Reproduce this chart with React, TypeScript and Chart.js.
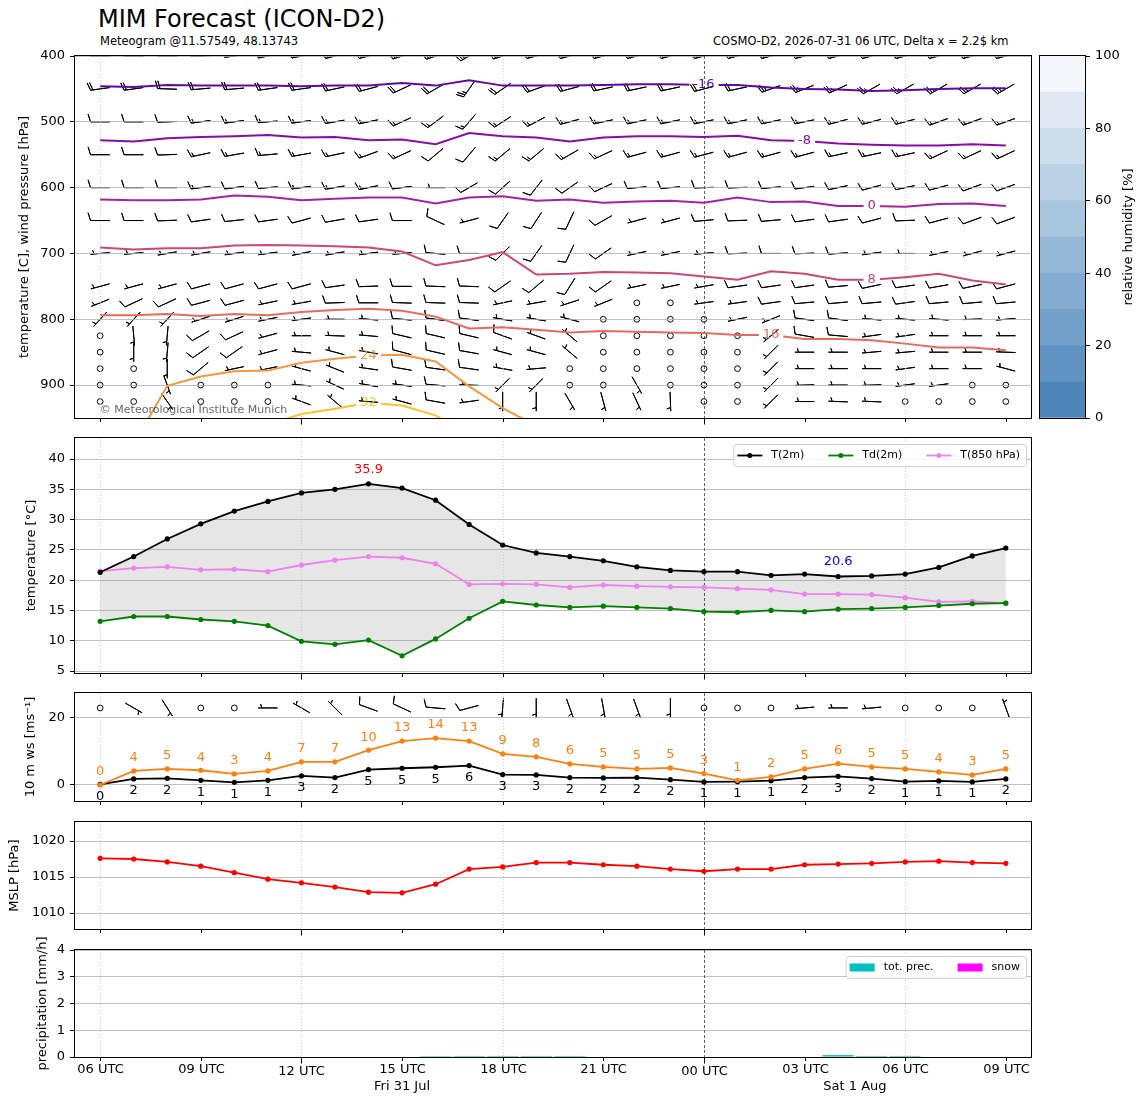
import React, { useEffect, useRef } from "react";
import { Chart, registerables } from "chart.js";

Chart.register(...registerables);

const FONT = "'DejaVu Sans', 'Liberation Sans', sans-serif";
Chart.defaults.font.family = FONT;

// ---------------- time axis ----------------
const hours = [0, 1, 2, 3, 4, 5, 6, 7, 8, 9, 10, 11, 12, 13, 14, 15, 16, 17, 18, 19, 20, 21, 22, 23, 24, 25, 26, 27];
const tickHours = [0, 3, 6, 9, 12, 15, 18, 21, 24, 27];
const tickLabels = ["06 UTC", "09 UTC", "12 UTC", "15 UTC", "18 UTC", "21 UTC", "00 UTC", "03 UTC", "06 UTC", "09 UTC"];
const majorTickHours = [6, 18];
const gridHours = [0, 6, 12, 24];
const midnightHours = [18];
const dayLabels = ["Fri 31 Jul", "Sat 1 Aug"];
const dayBounds = [0, 18, 27];

// ---------------- panel 1: wind barbs (deg from, knots) ----------------
const pressureLevels = [400, 450, 500, 550, 600, 650, 700, 750, 775, 800, 825, 850, 875, 900, 925];
const dir400 = [270, 270, 270, 268, 262, 258, 258, 255, 255, 252, 250, 240, 252, 255, 255, 255, 255, 255, 255, 255, 255, 255, 255, 255, 255, 255, 255, 255];
const spd400 = [25, 25, 25, 25, 25, 25, 25, 25, 25, 25, 25, 25, 25, 25, 25, 25, 25, 25, 25, 25, 25, 25, 25, 25, 25, 25, 25, 25];
const dir450 = [262, 262, 272, 265, 265, 262, 262, 258, 255, 245, 240, 215, 235, 250, 255, 258, 258, 258, 255, 258, 250, 248, 245, 240, 240, 240, 240, 240];
const spd450 = [20, 20, 20, 20, 20, 20, 20, 20, 20, 20, 20, 25, 20, 20, 20, 20, 20, 20, 20, 20, 25, 25, 25, 25, 25, 25, 25, 25];
const dir500 = [270, 270, 268, 262, 262, 265, 262, 260, 258, 245, 233, 220, 237, 242, 255, 258, 258, 258, 258, 258, 258, 258, 255, 255, 255, 250, 250, 250];
const spd500 = [10, 10, 10, 15, 15, 15, 15, 15, 15, 15, 15, 15, 15, 15, 15, 15, 15, 15, 15, 15, 15, 15, 15, 15, 15, 15, 15, 15];
const dir550 = [270, 270, 268, 258, 260, 265, 260, 258, 250, 245, 230, 220, 230, 230, 240, 245, 255, 255, 255, 255, 255, 255, 258, 258, 258, 245, 245, 245];
const spd550 = [10, 10, 10, 15, 15, 15, 15, 15, 15, 15, 10, 10, 15, 15, 15, 15, 15, 15, 15, 15, 15, 15, 15, 15, 15, 15, 15, 15];
const dir600 = [270, 270, 270, 262, 262, 265, 262, 260, 258, 262, 270, 240, 228, 218, 235, 245, 265, 265, 268, 268, 265, 262, 258, 255, 258, 255, 250, 250];
const spd600 = [10, 10, 10, 15, 10, 10, 15, 15, 15, 10, 5, 10, 10, 10, 10, 10, 10, 10, 10, 10, 10, 10, 10, 10, 10, 10, 10, 10];
const dir650 = [270, 270, 268, 262, 264, 262, 255, 260, 262, 270, 295, 255, 215, 213, 205, 240, 255, 255, 265, 268, 265, 262, 262, 255, 268, 255, 250, 250];
const spd650 = [10, 10, 10, 10, 10, 10, 10, 10, 10, 10, 10, 5, 10, 10, 10, 10, 5, 5, 10, 10, 10, 10, 10, 10, 10, 10, 10, 10];
const dir700 = [265, 265, 260, 260, 262, 262, 258, 260, 262, 265, 275, 270, 225, 215, 205, 235, 258, 258, 265, 268, 270, 268, 266, 262, 270, 258, 255, 255];
const spd700 = [5, 5, 5, 5, 5, 5, 5, 5, 5, 5, 10, 10, 10, 10, 10, 10, 5, 5, 5, 10, 10, 10, 10, 5, 5, 5, 5, 5];
const dir750 = [255, 255, 255, 255, 255, 255, 255, 262, 268, 270, 272, 272, 235, 230, 212, 235, 258, 258, 260, 262, 262, 262, 265, 258, 262, 260, 258, 255];
const spd750 = [5, 5, 5, 10, 10, 10, 10, 10, 10, 10, 10, 10, 10, 10, 10, 10, 5, 5, 5, 10, 10, 10, 10, 10, 10, 10, 10, 10];
const dir775 = [248, 245, 245, 255, 255, 258, 260, 268, 270, 272, 272, 272, 258, 260, 252, 248, 0, 0, 262, 262, 262, 265, 265, 265, 262, 265, 265, 265];
const spd775 = [5, 10, 10, 10, 10, 5, 5, 10, 10, 10, 10, 10, 5, 5, 5, 5, 0, 0, 5, 5, 10, 10, 10, 10, 10, 10, 10, 10];
const dir800 = [222, 222, 222, 252, 252, 258, 262, 270, 275, 275, 278, 278, 280, 280, 285, 0, 0, 0, 0, 258, 248, 278, 278, 275, 275, 275, 268, 265];
const spd800 = [5, 5, 5, 5, 5, 5, 5, 5, 5, 10, 10, 10, 5, 5, 5, 0, 0, 0, 0, 5, 5, 10, 10, 5, 5, 5, 5, 5];
const dir825 = [0, 175, 185, 240, 245, 255, 270, 272, 275, 283, 283, 283, 290, 290, 310, 0, 0, 0, 0, 0, 230, 280, 275, 262, 262, 270, 270, 270];
const spd825 = [0, 5, 5, 10, 10, 5, 5, 5, 5, 10, 10, 10, 10, 5, 5, 0, 0, 0, 0, 0, 5, 10, 10, 5, 5, 5, 5, 5];
const dir850 = [0, 180, 185, 235, 235, 255, 275, 285, 280, 285, 283, 280, 285, 285, 310, 0, 0, 0, 0, 0, 225, 270, 270, 265, 265, 270, 270, 272];
const spd850 = [0, 5, 5, 10, 10, 5, 5, 5, 5, 10, 10, 10, 5, 5, 5, 0, 0, 0, 0, 0, 5, 5, 5, 5, 5, 5, 5, 5];
const dir875 = [0, 0, 180, 230, 258, 258, 285, 292, 278, 280, 278, 278, 280, 265, 0, 0, 0, 0, 0, 0, 225, 270, 270, 270, 262, 270, 270, 285];
const spd875 = [0, 0, 5, 10, 5, 5, 5, 5, 5, 10, 10, 10, 5, 5, 0, 0, 0, 0, 0, 0, 5, 5, 5, 5, 5, 5, 5, 5];
const dir900 = [0, 0, 160, 0, 0, 0, 275, 295, 280, 278, 275, 272, 225, 225, 0, 0, 150, 0, 0, 0, 225, 268, 270, 268, 262, 262, 0, 0];
const spd900 = [0, 0, 5, 0, 0, 0, 5, 5, 5, 5, 10, 5, 5, 5, 0, 0, 5, 0, 0, 0, 5, 5, 5, 5, 5, 5, 0, 0];
const dir925 = [0, 0, 145, 0, 0, 0, 290, 310, 275, 285, 280, 262, 180, 180, 150, 165, 155, 178, 0, 0, 225, 270, 272, 272, 0, 0, 0, 0];
const spd925 = [0, 0, 5, 0, 0, 0, 5, 5, 5, 5, 10, 5, 5, 5, 5, 5, 5, 5, 0, 0, 5, 5, 5, 5, 0, 0, 0, 0];

const barbDirs = [dir400, dir450, dir500, dir550, dir600, dir650, dir700, dir750, dir775, dir800, dir825, dir850, dir875, dir900, dir925];
const barbSpds = [spd400, spd450, spd500, spd550, spd600, spd650, spd700, spd750, spd775, spd800, spd825, spd850, spd875, spd900, spd925];

// ---------------- panel 1: isotherms (pressure hPa of each isotherm per hour) ----------------
const isoLevels = [-16, -8, 0, 8, 16, 24, 32];
const isoM16 = [446, 447, 444, 445, 445, 445, 446, 445, 445, 441, 445, 437, 445, 445, 445, 444, 443, 443, 444, 444, 448, 450, 451, 453, 452, 450, 449, 449];
const isoM8 = [528, 530, 525, 523, 522, 520, 524, 523, 528, 527, 534, 517, 522, 524, 530, 524, 522, 522, 523, 521, 528, 529, 533, 535, 536, 536, 534, 536];
const iso0 = [618, 619, 619, 618, 612, 614, 619, 617, 615, 615, 624, 615, 613, 620, 618, 623, 621, 620, 623, 615, 622, 621, 628, 628, 629, 625, 624, 628];
const iso8 = [691, 694, 692, 692, 688, 687, 688, 689, 691, 697, 718, 710, 698, 732, 731, 728, 729, 730, 735, 740, 727, 731, 740, 740, 736, 731, 741, 747];
const iso16 = [794, 794, 792, 795, 792, 794, 789, 786, 784, 787, 796, 814, 812, 816, 820, 818, 819, 820, 821, 824, 824, 830, 830, 832, 837, 843, 843, 847];
const iso24 = [null, 990, 901, 887, 879, 878, 866, 860, 855, 854, 864, 902, 935, 962, null, null, null, null, null, null, null, null, null, null, null, null, null, null];
const iso32 = [null, null, null, null, null, 960, 944, 936, 927, 931, 946, 975, null, null, null, null, null, null, null, null, null, null, null, null, null, null, null, null];
const isoSeries = [isoM16, isoM8, iso0, iso8, iso16, iso24, iso32];
const isoLabelHours = [18, 21, 23, 23, 20, 8, 8];
const isoColors = ["#5d0aa8", "#860dab", "#a8229a", "#cc4778", "#e86a5c", "#f8963f", "#fcc12c"];

// ---------------- panel 2: temperatures (deg C) ----------------
const t2m = [21.3, 23.9, 26.8, 29.3, 31.4, 33.0, 34.4, 35.0, 35.9, 35.2, 33.2, 29.2, 25.8, 24.5, 23.9, 23.2, 22.2, 21.6, 21.4, 21.4, 20.8, 21.0, 20.6, 20.7, 21.0, 22.1, 24.0, 25.3];
const td2m = [13.2, 14.0, 14.0, 13.5, 13.2, 12.5, 9.9, 9.4, 10.1, 7.5, 10.3, 13.7, 16.5, 15.9, 15.5, 15.7, 15.5, 15.3, 14.8, 14.7, 15.0, 14.8, 15.2, 15.3, 15.5, 15.8, 16.1, 16.2];
const t850 = [21.5, 22.0, 22.2, 21.7, 21.8, 21.4, 22.5, 23.3, 23.9, 23.7, 22.7, 19.3, 19.4, 19.3, 18.8, 19.2, 19.0, 18.9, 18.8, 18.6, 18.4, 17.7, 17.7, 17.6, 17.1, 16.4, 16.5, 16.2];

// ---------------- panel 3: 10 m wind (m/s) and barbs (deg from, knots) ----------------
const ws10 = [0.2, 1.8, 2.0, 1.4, 0.8, 1.4, 2.7, 2.2, 4.6, 5.0, 5.3, 5.8, 3.1, 3.0, 2.2, 2.1, 2.2, 1.6, 0.9, 1.0, 1.3, 2.2, 2.6, 1.9, 1.0, 1.2, 0.9, 1.8];
const gust10 = [0.0, 4.2, 4.8, 4.4, 3.3, 4.2, 6.9, 6.9, 10.4, 13.1, 14.0, 13.1, 9.3, 8.4, 6.3, 5.4, 4.8, 5.1, 3.4, 1.4, 2.4, 4.8, 6.4, 5.4, 4.8, 3.9, 3.0, 4.8];
const dir10 = [0, 120, 148, 0, 0, 270, 300, 315, 290, 295, 275, 255, 185, 180, 160, 170, 160, 180, 0, 0, 0, 265, 270, 265, 0, 0, 0, 340];
const spd10 = [0, 5, 5, 0, 0, 5, 5, 5, 10, 10, 10, 10, 5, 5, 5, 5, 5, 5, 0, 0, 0, 5, 5, 5, 0, 0, 0, 5];

// ---------------- panel 4: MSLP (hPa) ----------------
const mslp = [1017.6, 1017.5, 1017.1, 1016.5, 1015.6, 1014.7, 1014.2, 1013.6, 1012.9, 1012.8, 1014.0, 1016.1, 1016.4, 1017.0, 1017.0, 1016.7, 1016.5, 1016.1, 1015.8, 1016.1, 1016.1, 1016.7, 1016.8, 1016.9, 1017.1, 1017.2, 1017.0, 1016.9];

// ---------------- panel 5: precipitation (mm/h) ----------------
const precip = [0, 0, 0, 0, 0, 0, 0, 0, 0, 0, 0.04, 0.04, 0.04, 0.04, 0.04, 0, 0, 0, 0, 0, 0, 0, 0.07, 0.04, 0.04, 0, 0, 0];
const snow = [0, 0, 0, 0, 0, 0, 0, 0, 0, 0, 0, 0, 0, 0, 0, 0, 0, 0, 0, 0, 0, 0, 0, 0, 0, 0, 0, 0];

// ---------------- colour bar ----------------
const rhBounds = [0, 10, 20, 30, 40, 50, 60, 70, 80, 90, 100];
const rhColors = ["#4f86ba", "#6092c2", "#72a0c9", "#84acd0", "#96b8d7", "#a8c5de", "#bad1e5", "#ccddec", "#dfe8f2", "#f3f7fb"];

// ============================================================
const BARB_LEN = 19.3;

function drawBarb(ctx: CanvasRenderingContext2D, x0: number, y0: number, dir: number, spd: number, L: number) {
  const mag = 5 * Math.round(spd / 5);
  ctx.beginPath();
  if (mag < 5) {
    ctx.arc(x0, y0, 0.15 * L, 0, Math.PI * 2);
    ctx.stroke();
    return;
  }
  const rad = (dir * Math.PI) / 180;
  const u = -Math.sin(rad);
  const v = -Math.cos(rad);
  const rot = Math.atan2(v, u) + Math.PI / 2;
  const c = Math.cos(rot);
  const s = Math.sin(rot);
  const spacing = 0.125 * L;
  const fh = 0.4 * L;
  const fw = 0.25 * L;
  const endy = -L / 2;
  const pts: number[][] = [[0, endy]];
  let offset = L;
  const nflags = Math.floor(mag / 50);
  const nbarbs = Math.floor((mag % 50) / 10);
  const half = mag % 10 >= 5;
  for (let i = 0; i < nflags; i++) {
    if (offset !== L) offset += spacing / 2;
    pts.push([0, endy + offset], [fh, endy - fw / 2 + offset], [0, endy - fw + offset]);
    offset -= fw + spacing;
  }
  for (let i = 0; i < nbarbs; i++) {
    pts.push([0, endy + offset], [fh, endy + offset + fw / 2], [0, endy + offset]);
    offset -= spacing;
  }
  if (half) {
    if (offset === L) {
      pts.push([0, endy + offset]);
      offset -= 1.5 * spacing;
    }
    pts.push([0, endy + offset], [fh / 2, endy + offset + fw / 4], [0, endy + offset]);
  }
  pts.forEach((p, i) => {
    const rx = p[0] * c - p[1] * s;
    const ry = p[0] * s + p[1] * c;
    const X = x0 + rx;
    const Y = y0 - ry;
    if (i === 0) ctx.moveTo(X, Y);
    else ctx.lineTo(X, Y);
  });
  ctx.closePath();
  ctx.stroke();
}

function isoRect(chart: any, lab: any) {
  const ds = chart.data.datasets[lab.dataset];
  const idx = hours.indexOf(lab.hour);
  const x = chart.scales.x.getPixelForValue(lab.hour);
  const y = chart.scales.y.getPixelForValue(ds.data[idx].y);
  const ctx = chart.ctx;
  ctx.save();
  ctx.font = `13px ${FONT}`;
  const w = ctx.measureText(lab.text).width;
  ctx.restore();
  return { x, y, w };
}

function meteoPlugin(cfg: any) {
  const clipped = new Set<number>();
  return {
    id: cfg.id,
    beforeDraw(chart: any) {
      if (!cfg.barbRows) return;
      const { ctx, chartArea: a, scales } = chart;
      ctx.save();
      ctx.beginPath();
      ctx.rect(a.left, a.top, a.right - a.left, a.bottom - a.top);
      ctx.clip();
      ctx.strokeStyle = "#000";
      ctx.lineWidth = 1;
      ctx.lineJoin = "miter";
      cfg.barbRows.forEach((row: any) => {
        const y = scales.y.getPixelForValue(row.value);
        hours.forEach((h, i) => drawBarb(ctx, scales.x.getPixelForValue(h), y, row.dir[i], row.spd[i], BARB_LEN));
      });
      ctx.restore();
    },
    beforeDatasetsDraw(chart: any) {
      const { ctx, chartArea: a, scales } = chart;
      ctx.save();
      ctx.lineWidth = 0.8;
      gridHours.forEach((h) => {
        const x = Math.round(scales.x.getPixelForValue(h)) + 0.5;
        ctx.strokeStyle = "#c4c4c4";
        ctx.setLineDash([1, 2]);
        ctx.beginPath();
        ctx.moveTo(x, a.top);
        ctx.lineTo(x, a.bottom);
        ctx.stroke();
      });
      midnightHours.forEach((h) => {
        const x = Math.round(scales.x.getPixelForValue(h)) + 0.5;
        ctx.strokeStyle = "#3a3a3a";
        ctx.setLineDash([3, 2]);
        ctx.beginPath();
        ctx.moveTo(x, a.top);
        ctx.lineTo(x, a.bottom);
        ctx.stroke();
      });
      ctx.restore();
    },
    beforeDatasetDraw(chart: any, args: any) {
      if (!cfg.isoLabels) return;
      const lab = cfg.isoLabels.find((l: any) => l.dataset === args.index);
      if (!lab) return;
      const r = isoRect(chart, lab);
      const ctx = chart.ctx;
      ctx.save();
      ctx.beginPath();
      ctx.rect(0, 0, chart.width, chart.height);
      ctx.rect(r.x - r.w / 2 - 4, r.y - 8, r.w + 8, 16);
      ctx.clip("evenodd");
      clipped.add(args.index);
    },
    afterDatasetDraw(chart: any, args: any) {
      if (clipped.has(args.index)) {
        chart.ctx.restore();
        clipped.delete(args.index);
      }
    },
    afterDatasetsDraw(chart: any) {
      const { ctx, chartArea: a } = chart;
      ctx.save();
      ctx.font = `13px ${FONT}`;
      ctx.textAlign = "center";
      ctx.textBaseline = "middle";
      if (cfg.isoLabels) {
        cfg.isoLabels.forEach((lab: any) => {
          const r = isoRect(chart, lab);
          ctx.fillStyle = lab.color;
          ctx.fillText(lab.text, r.x, r.y);
        });
      }
      if (cfg.valueLabels) {
        cfg.valueLabels.forEach((vl: any) => {
          const meta = chart.getDatasetMeta(vl.dataset);
          ctx.fillStyle = vl.color;
          vl.values.forEach((val: number, i: number) => {
            const p = meta.data[i];
            ctx.fillText(String(Math.round(val)), p.x, p.y + vl.offset);
          });
        });
      }
      if (cfg.extremes) {
        const ex = cfg.extremes;
        const meta = chart.getDatasetMeta(ex.dataset);
        const maxV = Math.max(...ex.values);
        const minV = Math.min(...ex.values);
        const pMax = meta.data[ex.values.indexOf(maxV)];
        const pMin = meta.data[ex.values.indexOf(minV)];
        ctx.fillStyle = "#ff0000";
        ctx.fillText(maxV.toFixed(1), pMax.x, pMax.y - 14);
        ctx.fillStyle = "#0000ff";
        ctx.fillText(minV.toFixed(1), pMin.x, pMin.y - 15);
      }
      if (cfg.copyright) {
        ctx.font = `11px ${FONT}`;
        ctx.textAlign = "left";
        ctx.fillStyle = "rgba(0,0,0,0.62)";
        ctx.fillText(cfg.copyright, a.left + 0.026 * (a.right - a.left), a.bottom - 8);
      }
      ctx.restore();
    },
    afterDraw(chart: any) {
      const { ctx, chartArea: a, scales } = chart;
      ctx.save();
      // frame
      ctx.strokeStyle = "#000";
      ctx.lineWidth = 1;
      ctx.strokeRect(Math.round(a.left) - 0.5, Math.round(a.top) - 0.5, Math.round(a.right - a.left) + 1, Math.round(a.bottom - a.top) + 1);
      // x ticks
      const xs = scales.x;
      const yb = Math.round(a.bottom) + 0.5;
      tickHours.forEach((h, i) => {
        const x = Math.round(xs.getPixelForValue(h)) + 0.5;
        const major = majorTickHours.includes(h);
        const len = major ? 6 : 3.5;
        ctx.beginPath();
        ctx.moveTo(x, yb);
        ctx.lineTo(x, yb + len);
        ctx.stroke();
        if (cfg.xLabels) {
          ctx.fillStyle = "#000";
          ctx.font = `13px ${FONT}`;
          ctx.textAlign = "center";
          ctx.textBaseline = "middle";
          ctx.fillText(tickLabels[i], x, a.bottom + (major ? 15 : 12.5));
        }
      });
      if (cfg.xLabels) {
        dayLabels.forEach((d, k) => {
          const mid = (dayBounds[k] + dayBounds[k + 1]) / 2;
          ctx.fillText(d, xs.getPixelForValue(mid), a.bottom + 30);
        });
      }
      // legend
      if (cfg.legend) {
        const items = chart.data.datasets
          .filter((ds: any) => ds.label)
          .map((ds: any) => ({ label: ds.label, color: cfg.legend === "rect" ? ds.backgroundColor : ds.borderColor }));
        ctx.font = `11px ${FONT}`;
        const handleW = 25;
        const gap = 9;
        const colGap = 24;
        const padL = 4;
        const padR = 6;
        let total = padL + padR;
        items.forEach((it: any, i: number) => {
          total += handleW + gap + ctx.measureText(it.label).width + (i < items.length - 1 ? colGap : 0);
        });
        const right = a.right - 5;
        const left = right - total;
        const top = a.top + 6;
        const h = 22;
        ctx.beginPath();
        (ctx as any).roundRect(left + 0.5, top + 0.5, total, h, 3);
        ctx.fillStyle = "rgba(255,255,255,0.85)";
        ctx.fill();
        ctx.strokeStyle = "#d0d0d0";
        ctx.lineWidth = 1;
        ctx.stroke();
        let x = left + padL;
        const cy = top + h / 2 + 0.5;
        items.forEach((it: any) => {
          if (cfg.legend === "rect") {
            ctx.fillStyle = it.color;
            ctx.fillRect(x, cy - 4, handleW, 8);
          } else {
            ctx.strokeStyle = it.color;
            ctx.lineWidth = 1.8;
            ctx.beginPath();
            ctx.moveTo(x, cy);
            ctx.lineTo(x + handleW, cy);
            ctx.stroke();
            ctx.fillStyle = it.color;
            ctx.beginPath();
            ctx.arc(x + handleW / 2, cy, 2.5, 0, Math.PI * 2);
            ctx.fill();
          }
          x += handleW + gap;
          ctx.fillStyle = "#000";
          ctx.textAlign = "left";
          ctx.textBaseline = "middle";
          ctx.fillText(it.label, x, cy);
          x += ctx.measureText(it.label).width + colGap;
        });
      }
      ctx.restore();
    },
  };
}

function timeScale() {
  return { type: "linear", min: -0.75, max: 27.75, display: false, offset: false };
}

function valueScale(o: any) {
  return {
    type: "linear",
    position: "left",
    min: o.min,
    max: o.max,
    reverse: !!o.reverse,
    afterFit: (s: any) => {
      s.width = 75;
    },
    ticks: {
      stepSize: o.step,
      includeBounds: false,
      color: "#000",
      font: { family: FONT, size: 13 },
      padding: 5,
      callback: (v: any) => String(v),
    },
    grid: { color: "#b0b0b0", lineWidth: 0.8, tickColor: "#000", tickLength: 5, tickWidth: 1 },
    border: { display: false },
    title: {
      display: true,
      text: o.title,
      color: "#000",
      font: { family: FONT, size: 13 },
      padding: { top: o.titlePad, bottom: 0 },
    },
  };
}

function baseOptions(padT: number, padB: number, yScale: any) {
  return {
    animation: false,
    responsive: false,
    events: [],
    layout: { padding: { left: 0, right: 117, top: padT, bottom: padB } },
    plugins: {
      legend: { display: false },
      tooltip: { enabled: false },
      filler: { drawTime: "beforeDatasetsDraw" },
    },
    scales: { x: timeScale(), y: yScale },
  };
}

const pts = (arr: any[]) => arr.map((v, i) => ({ x: hours[i], y: v }));

function lineDs(label: string | undefined, values: number[], color: string, extra: any = {}) {
  return {
    label,
    data: pts(values),
    borderColor: color,
    backgroundColor: color,
    borderWidth: 1.8,
    pointRadius: 2.6,
    pointBorderWidth: 0,
    pointBackgroundColor: color,
    tension: 0,
    fill: false,
    ...extra,
  };
}

const PAD = 14;

// ---------------- chart builders ----------------
function buildPanel1(canvas: HTMLCanvasElement) {
  const datasets = isoSeries.map((arr, k) => ({
    data: pts(arr),
    borderColor: isoColors[k],
    borderWidth: 2,
    pointRadius: 0,
    tension: 0,
    fill: false,
    spanGaps: false,
  }));
  const plugin = meteoPlugin({
    id: "p1",
    barbRows: pressureLevels.map((p, k) => ({ value: p, dir: barbDirs[k], spd: barbSpds[k] })),
    isoLabels: isoLevels.map((lev, k) => ({ dataset: k, hour: isoLabelHours[k], text: String(lev), color: isoColors[k] })),
    copyright: "© Meteorological Institute Munich",
  });
  return new Chart(canvas, {
    type: "line",
    data: { datasets },
    options: baseOptions(
      PAD,
      PAD,
      valueScale({ min: 400, max: 950, step: 100, reverse: true, title: "temperature [C], wind pressure [hPa]", titlePad: 17 })
    ),
    plugins: [plugin],
  } as any);
}

function buildPanel2(canvas: HTMLCanvasElement) {
  const datasets = [
    lineDs("T(2m)", t2m, "#000000", { fill: "+1", backgroundColor: "rgba(128,128,128,0.2)" }),
    lineDs("Td(2m)", td2m, "#008000"),
    lineDs("T(850 hPa)", t850, "#ee82ee"),
  ];
  const plugin = meteoPlugin({ id: "p2", legend: "line", extremes: { dataset: 0, values: t2m } });
  return new Chart(canvas, {
    type: "line",
    data: { datasets },
    options: baseOptions(PAD, PAD, valueScale({ min: 4.67, max: 43.47, step: 5, title: "temperature [°C]", titlePad: 24 })),
    plugins: [plugin],
  } as any);
}

function buildPanel3(canvas: HTMLCanvasElement) {
  const datasets = [lineDs(undefined, gust10, "#ff7f0e"), lineDs(undefined, ws10, "#000000")];
  const plugin = meteoPlugin({
    id: "p3",
    barbRows: [{ value: 23, dir: dir10, spd: spd10 }],
    valueLabels: [
      { dataset: 0, values: gust10, offset: -13, color: "#ff7f0e" },
      { dataset: 1, values: ws10, offset: 12, color: "#000000" },
    ],
  });
  return new Chart(canvas, {
    type: "line",
    data: { datasets },
    options: baseOptions(PAD, PAD, valueScale({ min: -4.78, max: 27.46, step: 20, title: "10 m ws [ms⁻¹]", titlePad: 23 })),
    plugins: [plugin],
  } as any);
}

function buildPanel4(canvas: HTMLCanvasElement) {
  const datasets = [lineDs(undefined, mslp, "#ff0000")];
  const plugin = meteoPlugin({ id: "p4" });
  return new Chart(canvas, {
    type: "line",
    data: { datasets },
    options: baseOptions(PAD, PAD, valueScale({ min: 1007.78, max: 1022.64, step: 5, title: "MSLP [hPa]", titlePad: 7 })),
    plugins: [plugin],
  } as any);
}

function buildPanel5(canvas: HTMLCanvasElement) {
  const barDs = (label: string, values: number[], color: string) => ({
    type: "bar",
    label,
    data: pts(values),
    backgroundColor: color,
    borderColor: color,
    borderWidth: 0,
    barPercentage: 0.93,
    categoryPercentage: 1,
    grouped: false,
  });
  const datasets = [barDs("tot. prec.", precip, "#00bfbf"), barDs("snow", snow, "#ff00ff")];
  const plugin = meteoPlugin({ id: "p5", legend: "rect", xLabels: true });
  return new Chart(canvas, {
    type: "bar",
    data: { datasets },
    options: baseOptions(22, 48, valueScale({ min: 0, max: 4, step: 1, title: "precipitation [mm/h]", titlePad: 35 })),
    plugins: [plugin],
  } as any);
}

function buildColorbar(canvas: HTMLCanvasElement) {
  const plugin = {
    id: "cb",
    afterDraw(chart: any) {
      const { ctx, chartArea: a } = chart;
      ctx.save();
      ctx.strokeStyle = "#000";
      ctx.lineWidth = 1;
      ctx.strokeRect(Math.round(a.left) - 0.5, Math.round(a.top) - 0.5, Math.round(a.right - a.left) + 1, Math.round(a.bottom - a.top) + 1);
      ctx.translate(a.right + 44, (a.top + a.bottom) / 2);
      ctx.rotate(-Math.PI / 2);
      ctx.font = `13px ${FONT}`;
      ctx.fillStyle = "#000";
      ctx.textAlign = "center";
      ctx.textBaseline = "middle";
      ctx.fillText("relative humidity [%]", 0, 0);
      ctx.restore();
    },
  };
  return new Chart(canvas, {
    type: "bar",
    data: {
      labels: ["rh"],
      datasets: rhColors.map((c, k) => ({
        data: [rhBounds[k + 1] - rhBounds[k]],
        backgroundColor: c,
        borderWidth: 0,
        barPercentage: 1,
        categoryPercentage: 1,
      })),
    },
    options: {
      animation: false,
      responsive: false,
      events: [],
      layout: { padding: { left: 10, right: 0, top: PAD, bottom: PAD } },
      plugins: { legend: { display: false }, tooltip: { enabled: false } },
      scales: {
        x: { stacked: true, display: false },
        y: {
          stacked: true,
          min: 0,
          max: 100,
          position: "right",
          afterFit: (s: any) => {
            s.width = 63;
          },
          ticks: { stepSize: 20, color: "#000", font: { family: FONT, size: 13 }, padding: 5, callback: (v: any) => String(v) },
          grid: { drawOnChartArea: false, tickLength: 5, tickColor: "#000", tickWidth: 1 },
          border: { display: false },
        },
      },
    },
    plugins: [plugin],
  } as any);
}

function ChartCanvas(props: { left: number; top: number; width: number; height: number; build: (c: HTMLCanvasElement) => any }) {
  const ref = useRef<HTMLCanvasElement>(null);
  useEffect(() => {
    const chart = props.build(ref.current as HTMLCanvasElement);
    return () => chart.destroy();
  }, []);
  return (
    <canvas
      ref={ref}
      width={props.width}
      height={props.height}
      style={{ position: "absolute", left: props.left, top: props.top, width: props.width, height: props.height }}
    />
  );
}

export default function App() {
  return (
    <div style={{ position: "absolute", left: 0, top: 0, width: 1148, height: 1105, background: "#fff", fontFamily: FONT, color: "#000" }}>
      <div style={{ position: "absolute", left: 98, top: 5, fontSize: 24, whiteSpace: "nowrap", lineHeight: "normal" }}>MIM Forecast (ICON-D2)</div>
      <div style={{ position: "absolute", left: 100, top: 34, fontSize: 11.5, whiteSpace: "nowrap", lineHeight: "normal" }}>
        Meteogram @11.57549, 48.13743
      </div>
      <div style={{ position: "absolute", left: 0, width: 1008.5, top: 34, fontSize: 11.5, textAlign: "right", whiteSpace: "nowrap", lineHeight: "normal" }}>
        COSMO-D2, 2026-07-31 06 UTC, Delta x = 2.2$ km
      </div>
      <ChartCanvas left={0} top={56 - PAD} width={1148} height={362 + 2 * PAD} build={buildPanel1} />
      <ChartCanvas left={1030} top={56 - PAD} width={118} height={362 + 2 * PAD} build={buildColorbar} />
      <ChartCanvas left={0} top={438 - PAD} width={1148} height={235 + 2 * PAD} build={buildPanel2} />
      <ChartCanvas left={0} top={693 - PAD} width={1148} height={108 + 2 * PAD} build={buildPanel3} />
      <ChartCanvas left={0} top={822 - PAD} width={1148} height={107 + 2 * PAD} build={buildPanel4} />
      <ChartCanvas left={0} top={950 - 22} width={1148} height={107 + 22 + 48} build={buildPanel5} />
    </div>
  );
}
